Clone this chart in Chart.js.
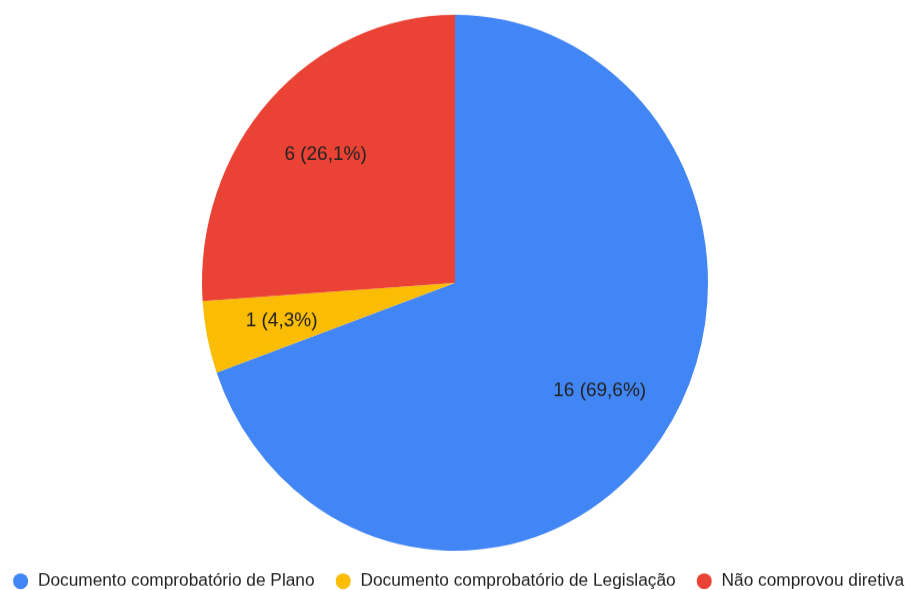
<!DOCTYPE html>
<html>
<head>
<meta charset="utf-8">
<script src="https://cdn.jsdelivr.net/npm/chart.js@4"></script>
<style>
  html, body { margin: 0; padding: 0; background: #ffffff; overflow: hidden; }
</style>
</head>
<body>
<canvas id="pie" width="905" height="557" style="display:block;width:905px;height:590px;"></canvas>
<script>
// Categories and counts of the pie
const categories = [
  'Documento comprobatório de Plano',
  'Documento comprobatório de Legislação',
  'Não comprovou diretiva'
];
const counts = [16, 1, 6];
const sliceColors = ['#4285f4', '#fbbc04', '#ea4335'];

// Writes "n (xx,x%)" inside each slice
const sliceLabels = {
  id: 'sliceLabels',
  afterDatasetsDraw(chart) {
    const ctx = chart.ctx;
    const values = chart.data.datasets[0].data;
    const total = values.reduce((a, b) => a + b, 0);
    const meta = chart.getDatasetMeta(0);
    ctx.save();
    ctx.font = '19px "Liberation Sans", Arial, sans-serif';
    ctx.fillStyle = '#222222';
    ctx.textAlign = 'center';
    ctx.textBaseline = 'middle';
    meta.data.forEach((arc, i) => {
      const p = arc.getProps(['x', 'y', 'startAngle', 'endAngle', 'outerRadius'], true);
      const mid = (p.startAngle + p.endAngle) / 2;
      const r = p.outerRadius * 0.7;
      const pct = (values[i] / total * 100).toFixed(1).replace('.', ',');
      ctx.fillText(values[i] + ' (' + pct + '%)', p.x + Math.cos(mid) * r, p.y + Math.sin(mid) * r);
    });
    ctx.restore();
  }
};

// Leaves a small left margin for the pie while the legend keeps the full width
const pieMargin = {
  id: 'pieMargin',
  afterLayout(chart) {
    chart.chartArea.left += 5;
    chart.chartArea.width = chart.chartArea.right - chart.chartArea.left;
  }
};

new Chart(document.getElementById('pie'), {
  type: 'pie',
  data: {
    labels: categories,
    datasets: [{
      data: counts,
      backgroundColor: sliceColors,
      borderWidth: 0
    }]
  },
  options: {
    responsive: false,
    animation: false,
    layout: { padding: { top: 14, left: -17, right: -28, bottom: -10.3 } },
    plugins: {
      tooltip: { enabled: false },
      legend: {
        position: 'bottom',
        labels: {
          usePointStyle: true,
          pointStyle: 'circle',
          boxWidth: 17.3,
          boxHeight: 10.6,
          padding: 20,
          color: '#222222',
          font: { family: '"Liberation Sans", Arial, sans-serif', size: 17.3 }
        }
      }
    }
  },
  plugins: [pieMargin, sliceLabels]
});
</script>
</body>
</html>
